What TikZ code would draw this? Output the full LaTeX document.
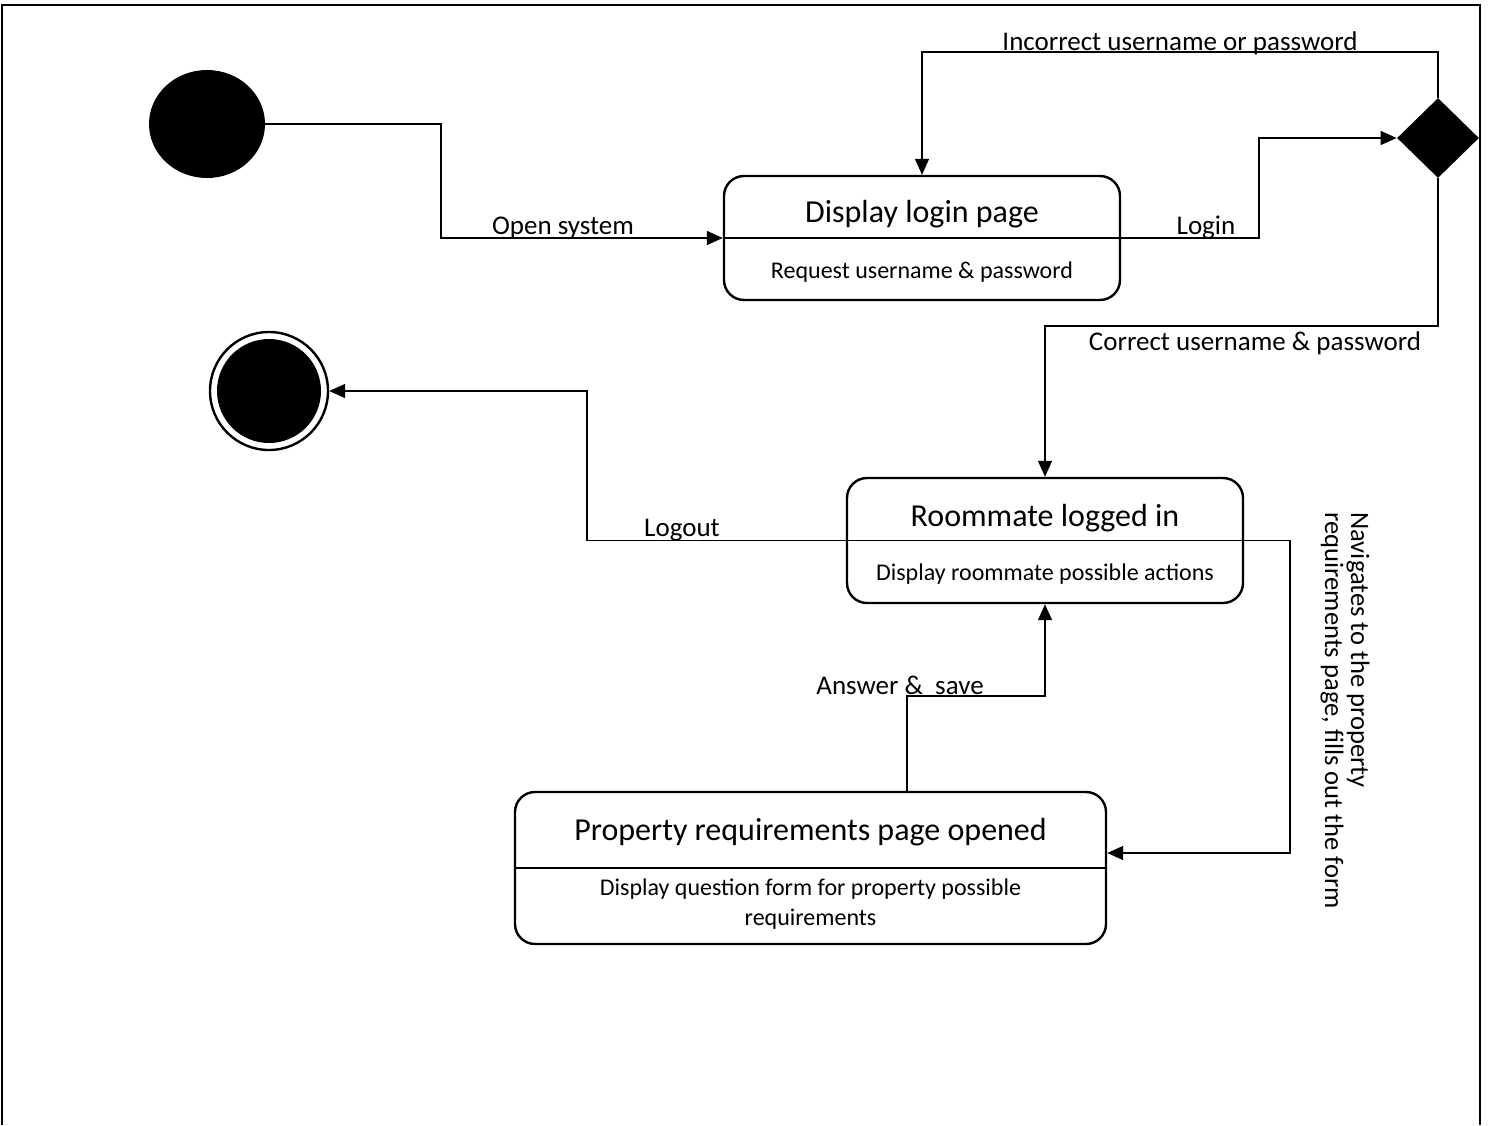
\documentclass[tikz,border=0pt]{standalone}
\usepackage{fontspec}
\setmainfont{Carlito}
\usetikzlibrary{arrows.meta,shapes.geometric}
\begin{document}
\begin{tikzpicture}[x=0.5pt,y=-0.5pt,
 conn/.style={draw, line width=0.7pt, -{Triangle[length=8pt,width=7pt]}},
 plain/.style={draw, line width=0.7pt},
 lbl/.style={font=\fontsize{13.5}{13}\selectfont, inner sep=0pt},
 rlbl/.style={font=\fontsize{13.3}{13}\selectfont, inner sep=0pt},
 ttl/.style={font=\fontsize{16}{19}\selectfont, inner sep=0pt},
 sub/.style={font=\fontsize{12}{15}\selectfont, align=center, inner sep=0pt},
 statebox/.style={draw, line width=1.2pt, rounded corners=10pt, inner sep=0pt},
]
\useasboundingbox (0,0) rectangle (1488,1125);
\draw[line width=0.7pt] (2,1125) -- (2,5) -- (1480,5) -- (1480,1125);

% states
\node[ellipse, fill=black, minimum width=58pt, minimum height=54pt, inner sep=0pt] (init) at (207,124) {};
\node[circle, draw, line width=1.2pt, minimum size=59pt, inner sep=0pt] (end) at (269,391) {};
\node[circle, fill=black, minimum size=52pt, inner sep=0pt] (endin) at (269,391) {};
\node[diamond, fill=black, minimum width=41pt, minimum height=40pt, inner sep=0pt] (dia) at (1438,138) {};

\node[statebox, minimum width=198pt, minimum height=62pt] (login) at (922,238) {};
\node[ttl] (loginT) at (922,214) {Display login page};
\node[sub] (loginS) at (922,272) {Request username \& password};
\draw[plain] (login.west) -- (login.east);

\node[statebox, minimum width=198pt, minimum height=62.5pt] (room) at (1045,540.5) {};
\node[ttl] (roomT) at (1045,518) {Roommate logged in};
\node[sub] (roomS) at (1045,574) {Display roommate possible actions};
\draw[plain] (room.west) -- (room.east);

\node[statebox, minimum width=295.5pt, minimum height=76pt] (prop) at (810.5,868) {};
\node[ttl] (propT) at (810.5,832) {Property requirements page opened};
\node[sub] (propS) at (810.5,904) {Display question form for property possible\\requirements};
\draw[plain] (prop.west) -- (prop.east);

% connectors
\draw[conn] (init.east) -| (441,238) -- (login.west);
\draw[conn] (login.east) -- (1259,238) |- (dia.west);
\draw[conn] (dia.north) -- (1438,52) -| (login.north);
\draw[conn] (dia.south) -- (1438,326) -| (room.north);
\draw[conn] (room.west) -- (587,540.5) |- (end.east);
\draw[conn] (room.east) -- (1290,540.5) |- ([yshift=7.5pt]prop.east);
\draw[conn] ([xshift=48.25pt]prop.north) -- ++(0,-95) -| (room.south);

% labels
\node[lbl] (l1) at (563,228) {Open system};
\node[lbl] (l2) at (1206,228) {Login};
\node[lbl] (l3) at (1180,43) {Incorrect username or password};
\node[lbl] (l4) at (1255,343) {Correct username \& password};
\node[lbl] (l5) at (682,530) {Logout};
\node[lbl] (l6) at (900,685) {Answer \&\ \ save};
\node[rlbl, rotate=-90, align=left, anchor=north west] (l7) at (1370,512) {Navigates to the property\\requirements page, fills out the form};
\end{tikzpicture}
\end{document}
